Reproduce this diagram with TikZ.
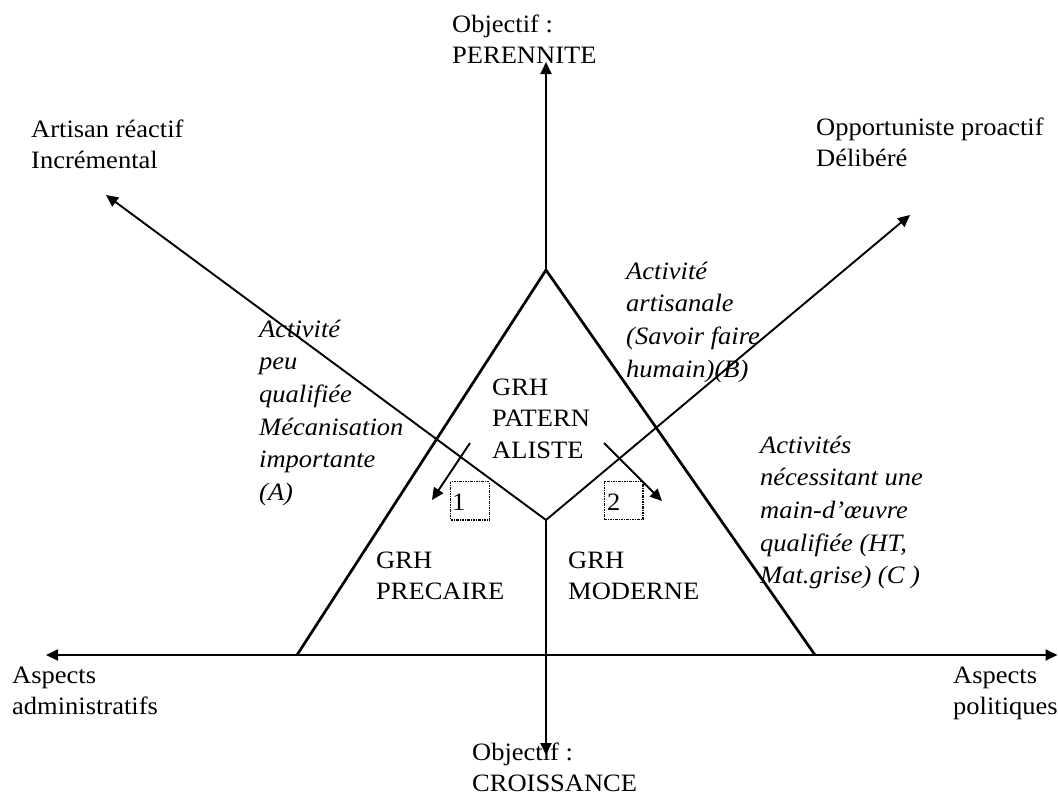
\documentclass[tikz,border=0pt]{standalone}
\usepackage{fontspec}
\setmainfont{Liberation Serif}[FakeStretch=1.06]
\usetikzlibrary{arrows.meta}
\tikzset{
  axis/.style={line width=1.9pt, -{Triangle[length=12pt,width=11pt]}},
  biaxis/.style={line width=1.9pt, {Triangle[length=12pt,width=11pt]}-{Triangle[length=12pt,width=11pt]}},
  tri/.style={line width=2.7pt, line join=miter},
  lbl/.style={inner sep=0pt, anchor=base west, align=left, font=\fontsize{25}{31.5}\selectfont},
  itl/.style={inner sep=0pt, anchor=base west, align=left, font=\fontsize{25}{32.7}\selectfont\itshape},
  dbox/.style={draw, line width=1.3pt, dash pattern=on 2.5pt off 1pt on 1pt off 1pt, minimum width=38.6pt, minimum height=38.3pt, inner sep=0pt}
}
\begin{document}
\begin{tikzpicture}[x=1pt,y=-1pt]
\useasboundingbox (0,0) rectangle (1058,795);
% key points
\coordinate (O) at (546,520);
\coordinate (A) at (546,270);
\coordinate (BL) at (297,655);
\coordinate (BR) at (815,655);
\coordinate (Ttip) at (546,62);
\coordinate (Btip) at (546,755);
\coordinate (Ltip) at (46,655);
\coordinate (Rtip) at (1057.5,655);
\coordinate (DLtip) at (106,195);
\coordinate (DRtip) at (910,215);
\coordinate (s1a) at (470,443);
\coordinate (s1b) at (432,500);
\coordinate (s2a) at (604,443);
\coordinate (s2b) at (662,501);
% axes
\draw[axis] (A) -- (Ttip);
\draw[axis] (O) -- (Btip);
\draw[biaxis] (Ltip) -- (Rtip);
\draw[axis] (O) -- (DLtip);
\draw[axis] (O) -- (DRtip);
% triangle
\draw[tri] (BL) -- (A) -- (BR);
% small arrows
\draw[axis] (s1a) -- (s1b);
\draw[axis] (s2a) -- (s2b);
% boxes
\node[dbox] (b1) at (470,500.8) {};
\node[dbox] (b2) at (623.6,500.4) {};
\node[lbl] (n1) at (452,510.5) {1};
\node[lbl] (n2) at (607,510) {2};
% texts (anchor = baseline of last line)
\node[lbl] (tperen) at (452,63.5) {Objectif :\\PERENNITE};
\node[lbl] (tart) at (31,168.5) {Artisan réactif\\Incrémental};
\node[lbl] (topp) at (816,166.5) {Opportuniste proactif\\Délibéré};
\node[itl] (tA) at (259,500.5) {Activité\\peu\\qualifiée\\Mécanisation\\importante\\(A)};
\node[itl] (tB) at (626,377.1) {Activité\\artisanale\\(Savoir faire\\humain)(B)};
\node[itl] (tC) at (760,583.8) {Activités\\nécessitant une\\main-d’œuvre\\qualifiée (HT,\\Mat.grise) (C )};
\node[lbl] (tpat) at (492,458) {GRH\\PATERN\\ALISTE};
\node[lbl] (tprec) at (376,599.5) {GRH\\PRECAIRE};
\node[lbl] (tmod) at (568,599.5) {GRH\\MODERNE};
\node[lbl] (tadm) at (12,714.5) {Aspects\\administratifs};
\node[lbl] (tpol) at (953,714.5) {Aspects\\politiques};
\node[lbl] (tcro) at (472,791.5) {Objectif :\\CROISSANCE};
\end{tikzpicture}
\end{document}
